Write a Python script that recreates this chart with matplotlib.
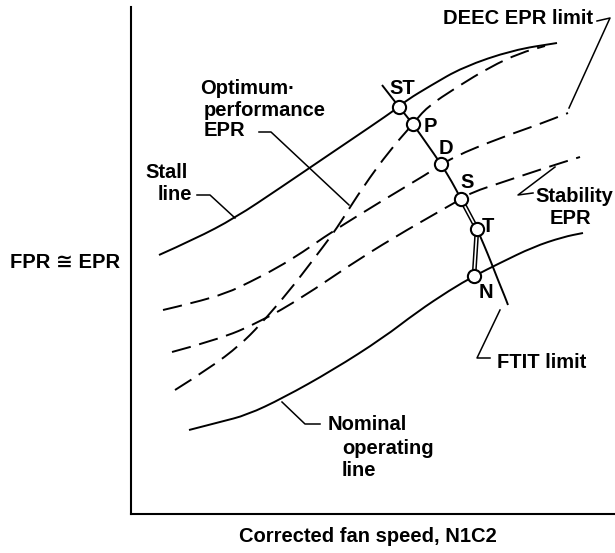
import matplotlib
matplotlib.use('Agg')
import matplotlib.pyplot as plt
from matplotlib.path import Path
from matplotlib.patches import PathPatch

# 曲线数据（横轴：修正风扇转速，纵轴：FPR ≅ EPR，任意单位）
stall_n = [28, 64, 104, 149, 199, 239, 268, 276, 299, 332, 382, 426]
stall_epr = [259, 275, 296, 326, 360, 387, 407, 414, 428, 447, 464, 471]

nominal_n = [58, 89, 116, 152, 202, 252, 286, 319, 343, 369, 402, 432, 452]
nominal_epr = [84, 92, 99, 116, 144, 176, 202, 224, 238, 251, 267, 277, 281]

deec_n = [32, 62, 96, 119, 146, 172, 199, 249, 296, 322, 369, 409, 437]
deec_epr = [204, 211, 221, 232, 246, 262, 281, 312, 340, 357, 376, 390, 401]

stab_n = [41, 86, 129, 172, 219, 262, 316, 330, 342, 369, 417, 449]
stab_epr = [162, 174, 192, 217, 249, 276, 307, 315, 322, 331, 347, 357]

opt_n = [44, 79, 109, 129, 159, 182, 201, 211, 232, 259, 282, 296, 326, 359, 389, 414]
opt_epr = [124, 146, 169, 189, 224, 254, 279, 294, 327, 364, 390, 407, 427, 447, 461, 468]

ftit_n = [251, 268, 282, 296, 310, 321, 330, 338, 346, 353, 360, 367, 374, 377]
ftit_epr = [429, 407, 390, 370, 350, 332, 315, 300, 285, 269, 252, 234, 217, 209]

# 工作点
pt_names = ['ST', 'P', 'D', 'S', 'T', 'N']
pt_n = [268, 282, 310, 330, 346, 343]
pt_epr = [407, 390, 350, 315, 285, 238]

plt.rcParams['font.family'] = ['Liberation Sans', 'DejaVu Sans']
plt.rcParams['font.weight'] = 'bold'
fs = 14.5


def smooth_curve(ax, xs, ys, **kw):
    # 用二次贝塞尔把折线画得平滑一点
    pts = list(zip(xs, ys))
    verts = [pts[0]]
    codes = [Path.MOVETO]
    for i in range(1, len(pts) - 1):
        mid = ((pts[i][0] + pts[i + 1][0]) / 2, (pts[i][1] + pts[i + 1][1]) / 2)
        verts += [pts[i], mid]
        codes += [Path.CURVE3, Path.CURVE3]
    verts.append(pts[-1])
    codes.append(Path.LINETO)
    patch = PathPatch(Path(verts, codes), fill=False, edgecolor='k', **kw)
    ax.add_patch(patch)
    return patch


fig = plt.figure(figsize=(6.15, 5.53), dpi=100)
ax = fig.add_axes([131 / 615, 39 / 553, 484 / 615, 507 / 553])
ax.set_xlim(0, 484)
ax.set_ylim(0, 507)
for side in ['top', 'right']:
    ax.spines[side].set_visible(False)
for side in ['left', 'bottom']:
    ax.spines[side].set_linewidth(1.5)
ax.set_xticks([])
ax.set_yticks([])

lw = 1.4
dash = (0, (10, 4.5))

# 实线
smooth_curve(ax, stall_n, stall_epr, lw=lw)
smooth_curve(ax, nominal_n, nominal_epr, lw=lw)
smooth_curve(ax, ftit_n, ftit_epr, lw=lw)

# 虚线
smooth_curve(ax, deec_n, deec_epr, lw=lw, linestyle=dash)
smooth_curve(ax, stab_n, stab_epr, lw=lw, linestyle=dash)
smooth_curve(ax, opt_n, opt_epr, lw=lw, linestyle=dash)

# 双线 S -> T -> N
idx = [3, 4, 5]
dn = [pt_n[i] for i in idx]
de = [pt_epr[i] for i in idx]
ax.plot(dn, de, 'k-', lw=3.4, solid_joinstyle='round')
ax.plot(dn, de, 'w-', lw=1.2, solid_joinstyle='round')

# 工作点圆圈
ax.plot(pt_n, pt_epr, 'o', ms=9.5, mfc='white', mec='black', mew=1.5, ls='none', zorder=5)

label_pos = {'ST': (271, 426), 'P': (299, 388), 'D': (315, 366),
             'S': (336, 332), 'T': (357, 287), 'N': (355, 222)}
for name in pt_names:
    x, y = label_pos[name]
    ax.text(x, y, name, fontsize=fs, ha='center', va='center')

# 引线
lead = dict(color='k', lw=1.1, clip_on=False)
ax.plot([66, 79, 104], [319, 319, 296], **lead)          # Stall line
ax.plot([128, 140, 218], [382, 382, 309], **lead)        # Optimum
ax.plot([466, 479, 438], [493, 496, 406], **lead)        # DEEC
ax.plot([402, 387, 424], [321, 319, 347], **lead)        # Stability
ax.plot([369, 346, 359], [204, 156, 156], **lead)        # FTIT
ax.plot([151, 174, 189], [112, 90, 90], **lead)          # Nominal

# 标注文字
txt = dict(fontsize=fs, ha='left', va='center')
ax.text(14, 342, 'Stall', **txt)
ax.text(27, 319, 'line', **txt)
ax.text(69, 426, 'Optimum·', **txt)
ax.text(73, 404, 'performance', **txt)
ax.text(73, 383, 'EPR', **txt)
ax.text(312, 496, 'DEEC EPR limit', **txt)
ax.text(404, 317, 'Stability', **txt)
ax.text(419, 296, 'EPR', **txt)
ax.text(366, 152, 'FTIT limit', **txt)
ax.text(197, 89, 'Nominal', **txt)
ax.text(211, 66, 'operating', **txt)
ax.text(211, 44, 'line', **txt)

# 坐标轴标题
ax.text(-66, 252, 'FPR ≅ EPR', fontsize=fs, ha='center', va='center')
ax.text(237, -23, 'Corrected fan speed, N1C2', fontsize=fs, ha='center', va='center')

plt.savefig('out.png', dpi=100)
